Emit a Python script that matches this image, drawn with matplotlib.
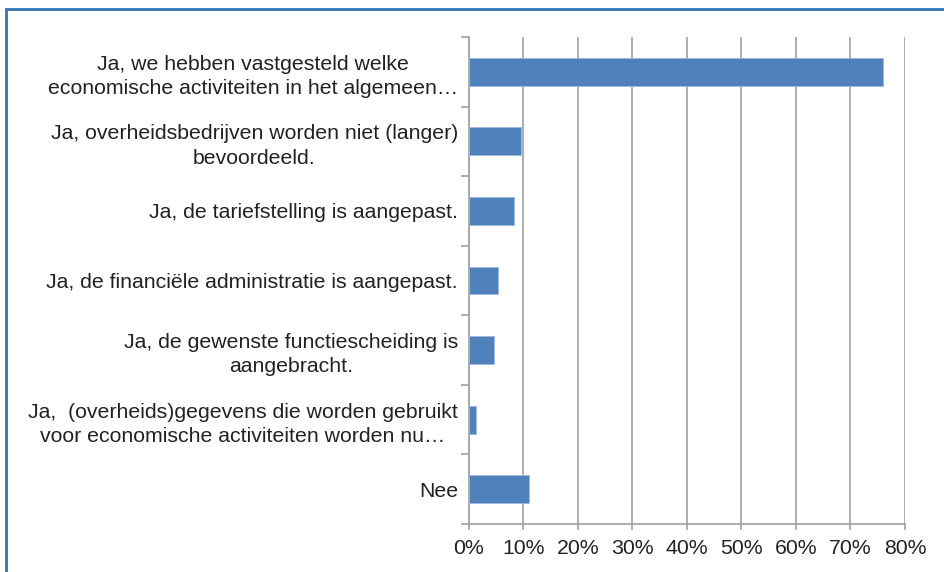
import matplotlib.pyplot as plt
import matplotlib.patches as patches
import numpy as np

plt.rcParams['font.family'] = ['Liberation Sans', 'DejaVu Sans']

#Answer categories, top to bottom
categories = [
    'Ja, we hebben vastgesteld welke\neconomische activiteiten in het algemeen\u2026',
    'Ja, overheidsbedrijven worden niet (langer)\nbevoordeeld.',
    'Ja, de tariefstelling is aangepast.',
    'Ja, de financiële administratie is aangepast.',
    'Ja, de gewenste functiescheiding is\naangebracht.',
    'Ja,  (overheids)gegevens die worden gebruikt\nvoor economische activiteiten worden nu\u2026',
    'Nee',
]
shares = [76, 9.5, 8.2, 5.3, 4.6, 1.3, 11.0]  #percent
xticks = [0, 10, 20, 30, 40, 50, 60, 70, 80]

BAR = '#4F81BD'
GRID = '#A0A0A0'
TEXT = '#222222'
FS = 15.3

fig = plt.figure(figsize=(9.45, 5.72), dpi=100)
ax = fig.add_axes([469/945, 48/572, 436/945, 487/572])

n = len(categories)
ypos = np.arange(n)
ax.barh(ypos, shares, height=0.4, color=BAR, edgecolor='#9DB9DD', linewidth=0.6, zorder=3)

ax.set_xlim(0, 80)
ax.set_ylim(n - 0.5, -0.5)
ax.set_xticks(xticks)
ax.set_xticklabels([f'{t}%' for t in xticks])
ax.xaxis.grid(True, color=GRID, linewidth=1.2, zorder=0)

#Category boundaries as major ticks, labels on minor ticks at centers
ax.set_yticks(np.arange(n + 1) - 0.5)
ax.set_yticklabels([])
ax.set_yticks(ypos, minor=True)
ax.set_yticklabels(categories, minor=True, multialignment='center', linespacing=1.35)
ax.tick_params(axis='y', which='major', length=6, color=GRID, width=1.2)
ax.tick_params(axis='y', which='minor', length=0, pad=8, labelsize=FS, labelcolor=TEXT)
ax.tick_params(axis='x', length=4, color=GRID, width=1.2, pad=7, labelsize=FS, labelcolor=TEXT)

for s in ['top', 'right']:
    ax.spines[s].set_visible(False)
for s in ['left', 'bottom']:
    ax.spines[s].set_color(GRID)
    ax.spines[s].set_linewidth(1.2)

#Blue frame around the chart
frame = patches.Rectangle((6/945, -0.05), 1.2, (563/572) + 0.05, transform=fig.transFigure,
                          fill=False, edgecolor='#2E75B6', linewidth=2, clip_on=False)
fig.patches.append(frame)

plt.savefig('out.png', dpi=100)
